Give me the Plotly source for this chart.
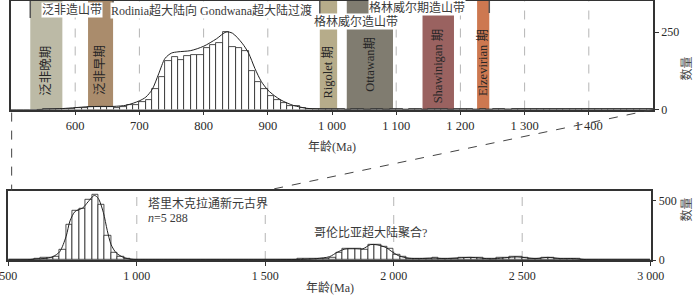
import numpy as np
import plotly.graph_objects as go

# ---------------- data ----------------
# top panel: 10 Ma bins, 500-1500 Ma
top_bin_start = 500
top_bin_width = 10
top_counts = [0, 0, 0, 0, 0, 1, 1, 2, 2, 3,                # 500-590
              5, 6, 7, 7, 9, 8, 6, 8, 14, 16,             # 600-690
              25, 30, 65, 105, 158, 170, 161, 174, 175, 177,  # 700-790
              200, 207, 215, 250, 202, 200, 189, 125, 89, 65,  # 800-890
              45, 30, 20, 10, 12, 5, 3, 2, 1, 1,          # 900-990
              1, 1, 0, 1, 1, 0, 1, 1, 0, 1,               # 1000-1090
              1, 0, 1, 1, 0, 1, 1, 1, 0, 1,               # 1100-1190
              1, 1, 0, 1, 0, 1, 1, 0, 1, 1,               # 1200-1290
              2, 1, 2, 2, 1, 2, 2, 1, 2, 2,               # 1300-1390
              2, 1, 2, 2, 1, 2, 1, 2, 2, 1]               # 1400-1490
top_kde_age = [540, 560, 580, 600, 620, 640, 660, 680, 700, 710, 720, 730, 740, 750, 760,
               780, 800, 820, 835, 845, 860, 870, 880, 890, 900, 910, 920, 930, 940, 950,
               960, 980, 1000, 1100, 1200, 1300, 1400, 1500]
top_kde_val = [0, 1, 3, 6, 9, 10, 10, 14, 28, 40, 65, 115, 165, 182, 186,
               190, 204, 228, 250, 246, 214, 182, 132, 90, 63, 45, 31, 21, 13, 8,
               4, 1.5, 1, 1, 1, 1.5, 1.5, 1.5]

# bottom panel: 25 Ma bins, 500-3000 Ma
bot_bin_start = 500
bot_bin_width = 25
bot_counts = ([0, 0, 1, 3,                                   # 500-575
               11, 17, 17, 30, 84, 300, 415, 430, 511, 548,  # 600-825
               463, 205, 65, 25, 10, 5] +                    # 850-975
              [3, 2, 2, 2, 1, 2, 2, 1, 2, 2, 2, 3, 2, 2,     # 1000-1325
               2, 3, 2, 3, 3, 3, 4, 4, 5, 6, 6, 8, 9, 10] +  # 1350-1675
              [12, 15, 22, 60, 93, 98, 93, 84, 132, 126,     # 1700-1925
               112, 98, 42, 25, 15, 12, 12, 15, 18, 15,      # 1950-2175
               12, 14, 18, 22, 22, 18, 12, 8, 16, 20,        # 2200-2425
               25, 28, 22, 14, 10, 20, 22, 15, 12, 14,       # 2450-2675
               10, 5, 3, 2, 1, 1, 0, 0, 0, 0, 0, 0])         # 2700-2975
bot_kde_age = [500, 575, 600, 650, 675, 700, 725, 740, 760, 790, 810, 835, 850, 870, 885,
               900, 920, 950, 975, 1000, 1200, 1500, 1650, 1700, 1750, 1780, 1810, 1850,
               1880, 1910, 1935, 1970, 1990, 2020, 2060, 2100, 2150, 2200, 2300, 2380,
               2480, 2550, 2600, 2650, 2700, 2750, 2850, 3000]
bot_kde_val = [0, 2, 8, 15, 30, 70, 200, 330, 410, 440, 490, 545, 520, 400, 250,
               130, 60, 20, 8, 3, 2, 2, 6, 12, 28, 65, 92, 95,
               95, 130, 128, 105, 75, 35, 15, 12, 16, 12, 22, 10,
               26, 12, 22, 12, 12, 3, 0, 0]

top_ticks = [600, 700, 800, 900, 1000, 1100, 1200, 1300, 1400]
top_ticktext = ["600", "700", "800", "900", "1 000", "1 100", "1 200", "1 300", "1 400"]
bot_ticks = [500, 1000, 1500, 2000, 2500, 3000]
bot_ticktext = ["500", "1 000", "1 500", "2 000", "2 500", "3 000"]
bot_grid = [1000, 1500, 2000, 2500]

# period bands (start, end, label, colour)
bands = [(530, 580, "泛非晚期", "#bcbaa6"),
         (620, 659, "泛非早期", "#aa8c6c"),
         (981, 1008, "Rigolet 期", "#b6ac8a"),
         (1023, 1095, "Ottawan期", "#807c70"),
         (1141, 1190, "Shawinigan 期", "#9a6260"),
         (1226, 1245, "Elzevirian 期", "#cd7850")]
band_label_y = [0.36, 0.36, 0.345, 0.42, 0.40, 0.43]

FONT = "Liberation Serif, Noto Sans CJK SC, serif"
INK = "#2a2a2a"

top_x = np.arange(len(top_counts)) * top_bin_width + top_bin_start + top_bin_width / 2
bot_x = np.arange(len(bot_counts)) * bot_bin_width + bot_bin_start + bot_bin_width / 2

fig = go.Figure()
bar_line = dict(color="#222", width=0.8)
fig.add_trace(go.Bar(x=top_x, y=top_counts, width=top_bin_width,
                     marker=dict(color="white", line=bar_line), xaxis="x", yaxis="y"))
fig.add_trace(go.Scatter(x=top_kde_age, y=top_kde_val, mode="lines",
                         line=dict(color="#222", width=1, shape="spline", smoothing=0.8),
                         xaxis="x", yaxis="y"))
fig.add_trace(go.Bar(x=bot_x, y=bot_counts, width=bot_bin_width,
                     marker=dict(color="white", line=bar_line), xaxis="x2", yaxis="y2"))
fig.add_trace(go.Scatter(x=bot_kde_age, y=bot_kde_val, mode="lines",
                         line=dict(color="#222", width=1, shape="spline", smoothing=0.8),
                         xaxis="x2", yaxis="y2"))

L, R, T, B = 8, 47, 1, 46
W, H = 700, 306
pw, ph = W - L - R, H - T - B
top_dom_x = [3 / pw, 1.0]
bot_dom_x = [0.0005, 0.9964]
top_dom_y = [(H - B - 109.5) / ph, 1.0]
bot_dom_y = [0.0, (H - B - 190.7) / ph]

axis_common = dict(showline=True, linecolor="#333", linewidth=1.5, mirror=True,
                   ticks="outside", ticklen=4, tickcolor="#333", tickwidth=1,
                   zeroline=False, showgrid=False, automargin=False,
                   ticklabeloverflow="allow")

fig.update_layout(
    width=W, height=H, margin=dict(l=L, r=R, t=T, b=B, autoexpand=False),
    plot_bgcolor="rgba(0,0,0,0)", paper_bgcolor="white", showlegend=False, bargap=0,
    xaxis=dict(domain=top_dom_x, range=[500, 1500], tickvals=top_ticks, ticktext=top_ticktext,
               anchor="y", tickfont=dict(family=FONT, size=12.5, color=INK), **axis_common),
    yaxis=dict(domain=top_dom_y, range=[0, 350], side="right", tickvals=[0, 250],
               anchor="x", tickfont=dict(family=FONT, size=12, color=INK), **axis_common),
    xaxis2=dict(domain=bot_dom_x, range=[500, 3000], tickvals=bot_ticks, ticktext=bot_ticktext,
                anchor="y2", tickfont=dict(family=FONT, size=12, color=INK), **axis_common),
    yaxis2=dict(domain=bot_dom_y, range=[0, 585], side="right", tickvals=[0, 500],
                anchor="x2", tickfont=dict(family=FONT, size=12, color=INK), **axis_common),
)

shapes = []
annos = []
# dashed grid lines (drawn as shapes so the bands can sit above them)
for g in top_ticks:
    shapes.append(dict(type="line", xref="x", yref="y", x0=g, x1=g, y0=0, y1=350,
                       line=dict(color="#b5b5b5", width=1, dash="dash"), layer="below"))
for g in bot_grid:
    shapes.append(dict(type="line", xref="x2", yref="y2", x0=g, x1=g, y0=0, y1=585,
                       line=dict(color="#b5b5b5", width=1, dash="dash"), layer="below"))

for (a, b, lab, col), ly in zip(bands, band_label_y):
    shapes.append(dict(type="rect", xref="x", yref="y", x0=a, x1=b, y0=0, y1=350,
                       fillcolor=col, line=dict(width=0), layer="below"))
    annos.append(dict(x=(a + b) / 2, y=ly * 350, xref="x", yref="y", text=lab,
                      textangle=-90, showarrow=False,
                      font=dict(family=FONT, size=12.5, color="#262626")))

def bracket(x, y0, y1):
    shapes.append(dict(type="line", xref="x", yref="y", x0=x, x1=x, y0=y0 * 350, y1=y1 * 350,
                       line=dict(color="#555", width=1.5), layer="above"))

for xv in (530, 659, 981):
    bracket(xv, 0.843, 1.0)
bracket(1245, 0.889, 1.0)
bracket(981, 0.751, 0.871)
bracket(1095, 0.751, 0.871)

top_labels = [(595, 0.917, "泛非造山带"),
              (813, 0.917, "Rodinia超大陆向 Gondwana超大陆过渡"),
              (1132, 0.94, "格林威尔期造山带"),
              (1037, 0.81, "格林威尔造山带")]
for xv, yv, t in top_labels:
    annos.append(dict(x=xv, y=yv * 350, xref="x", yref="y", text=t, showarrow=False,
                      bgcolor="white", borderpad=0,
                      font=dict(family=FONT, size=12, color="#3a3a3a")))

annos.append(dict(x=1036, y=0.82 * 585, xref="x2", yref="y2", text="塔里木克拉通新元古界",
                  xanchor="left", showarrow=False, font=dict(family=FONT, size=12, color="#3a3a3a")))
annos.append(dict(x=1036, y=0.60 * 585, xref="x2", yref="y2", text="<i>n</i>=5 288",
                  xanchor="left", showarrow=False, font=dict(family=FONT, size=12, color="#3a3a3a")))
annos.append(dict(x=1911, y=0.39 * 585, xref="x2", yref="y2", text="哥伦比亚超大陆聚合?",
                  showarrow=False, font=dict(family=FONT, size=12, color="#3a3a3a")))

def px(xp, yp):
    return (xp - L) / pw, (H - B - yp) / ph

for (xp, yp, t) in [(332, 147, "年龄(Ma)"), (330, 297, "年龄(Ma)")]:
    xx, yy = px(xp, yp)
    annos.append(dict(x=xx, y=yy, xref="paper", yref="paper", text=t, showarrow=False,
                      font=dict(family=FONT, size=12, color="#3a3a3a")))
for (xp, yp) in [(695, 55), (695, 224)]:
    xx, yy = px(xp, yp)
    annos.append(dict(x=xx, y=yy, xref="paper", yref="paper", text="数量", textangle=-90,
                      showarrow=False, font=dict(family=FONT, size=12, color="#4a4a4a")))

# zoom connector lines
def dom_x(dom, rng, v):
    return dom[0] + (dom[1] - dom[0]) * (v - rng[0]) / (rng[1] - rng[0])

shapes.append(dict(type="line", xref="paper", yref="paper",
                   x0=dom_x(top_dom_x, [500, 1500], 1500), y0=top_dom_y[0],
                   x1=dom_x(bot_dom_x, [500, 3000], 1500), y1=bot_dom_y[1],
                   line=dict(color="#444", width=1, dash="dash")))
shapes.append(dict(type="line", xref="paper", yref="paper",
                   x0=dom_x(top_dom_x, [500, 1500], 500) + 0.001, y0=top_dom_y[0] - 0.012,
                   x1=dom_x(top_dom_x, [500, 1500], 500) + 0.001, y1=bot_dom_y[1],
                   line=dict(color="#444", width=1, dash="dash")))

fig.update_layout(shapes=shapes, annotations=annos)
fig.write_html("out.html", config={"displayModeBar": False},
               post_script="document.body.style.margin='0';document.body.style.overflow='hidden';")
